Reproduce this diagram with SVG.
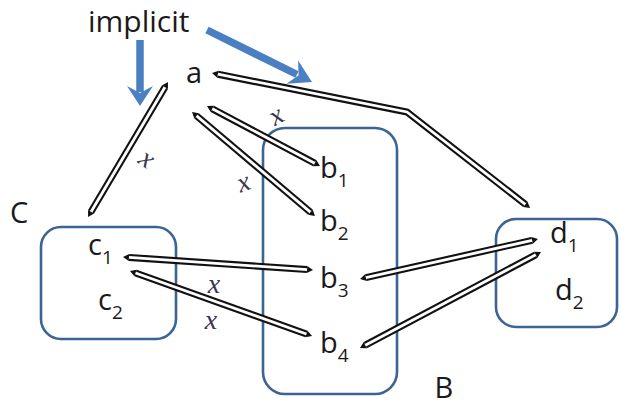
<svg xmlns="http://www.w3.org/2000/svg" width="621" height="405" viewBox="0 0 621 405">
<style>
.lbl{font-family:"Open Sans","Liberation Sans",sans-serif;font-size:29px;fill:#1a1a1a}
.sub{font-size:19px}
.box{fill:none;stroke:#3b6393;stroke-width:2.6}
.outer{fill:none;stroke:#111111;stroke-width:7;stroke-linejoin:miter;marker-start:url(#tip);marker-end:url(#tip)}
.inner{fill:none;stroke:#ffffff;stroke-width:2.8;stroke-linejoin:miter}
.xm{font-family:"Liberation Serif",serif;font-style:italic;font-size:28px;fill:#3b3550;text-anchor:middle}
.blue{fill:none;stroke:#4a7fc1;stroke-width:7.5}
.bluehead{fill:#4a7fc1}
</style>
<defs>
<marker id="tip" markerUnits="userSpaceOnUse" viewBox="0 -4 7 8" refX="0" refY="0" markerWidth="7" markerHeight="8" orient="auto-start-reverse" overflow="visible">
<path d="M0,-3.5 L6,0 L0,3.5 Z" fill="#111111"/>
</marker>
</defs>
<rect width="621" height="405" fill="#ffffff"/>

<g id="node-C">
<rect class="box" x="41" y="227" width="135" height="112" rx="20"/>
<text class="lbl" x="10" y="223">C</text>
<text class="lbl" x="88" y="255">c<tspan class="sub" dy="9">1</tspan></text>
<text class="lbl" x="98" y="310">c<tspan class="sub" dy="9">2</tspan></text>
</g>
<g id="node-B">
<rect class="box" x="263" y="128" width="134" height="266" rx="22"/>
<text class="lbl" x="320" y="178">b<tspan class="sub" dy="9">1</tspan></text>
<text class="lbl" x="320" y="231">b<tspan class="sub" dy="9">2</tspan></text>
<text class="lbl" x="320" y="288">b<tspan class="sub" dy="9">3</tspan></text>
<text class="lbl" x="320" y="353">b<tspan class="sub" dy="9">4</tspan></text>
<text class="lbl" x="434.5" y="398">B</text>
</g>
<g id="node-D">
<rect class="box" x="496" y="219" width="121" height="108" rx="20"/>
<text class="lbl" x="550" y="243">d<tspan class="sub" dy="9">1</tspan></text>
<text class="lbl" x="555" y="300">d<tspan class="sub" dy="9">2</tspan></text>
</g>
<g id="node-a">
<text class="lbl" x="186" y="83">a</text>
</g>
<g id="node-implicit">
<text class="lbl" x="88" y="32" style="font-size:30px">implicit</text>
<path class="blue" d="M140,40 L140,92"/>
<path class="bluehead" d="M127,86 L140,106 L153,86 L140,93 Z"/>
<path class="blue" d="M207,30 L297,74.5"/>
<path class="bluehead" d="M286.5,83.8 L312,82 L298.1,60.6 L298.6,75.3 Z"/>
</g>

<g id="connectors">
<path class="outer" d="M91.1,211.8 L164.9,87.2"/>
<path class="inner" d="M91.1,211.8 L164.9,87.2"/>
<path class="outer" d="M217.9,74.2 L407,112 L525.3,204.3"/>
<path class="inner" d="M217.9,74.2 L407,112 L525.3,204.3"/>
<path class="outer" d="M212.3,108.8 L314.7,163.2"/>
<path class="inner" d="M212.3,108.8 L314.7,163.2"/>
<path class="outer" d="M196.6,115.9 L310.4,212.1"/>
<path class="inner" d="M196.6,115.9 L310.4,212.1"/>
<path class="outer" d="M129,257.4 L307,269.6"/>
<path class="inner" d="M129,257.4 L307,269.6"/>
<path class="outer" d="M135.6,273 L306.4,334"/>
<path class="inner" d="M135.6,273 L306.4,334"/>
<path class="outer" d="M365.9,277.7 L532.1,240.3"/>
<path class="inner" d="M365.9,277.7 L532.1,240.3"/>
<path class="outer" d="M365.3,345.2 L535.7,254.8"/>
<path class="inner" d="M365.3,345.2 L535.7,254.8"/>
<text class="xm" x="146" y="167" transform="rotate(35 146 160)">x</text>
<text class="xm" x="277" y="124" transform="rotate(-30 277 117)">x</text>
<text class="xm" x="244" y="191" transform="rotate(-20 244 184)">x</text>
<text class="xm" x="214" y="293">x</text>
<text class="xm" x="211" y="329">x</text>
</g>
</svg>
